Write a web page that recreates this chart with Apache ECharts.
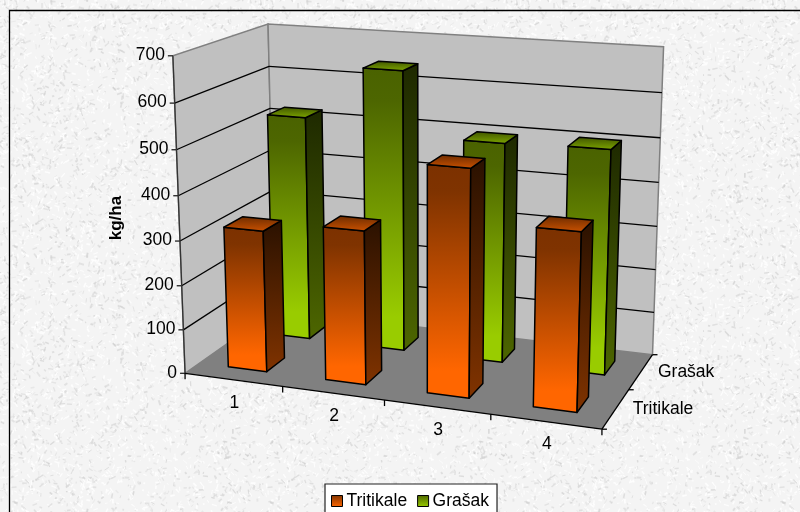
<!DOCTYPE html>
<html>
<head>
<meta charset="utf-8">
<style>html,body{margin:0;padding:0;background:#f0f0f0}#chart{width:800px;height:512px}</style>
<script src="https://cdn.jsdelivr.net/npm/echarts@6/dist/echarts.min.js"></script>
</head>
<body>
<div id="chart"></div>
<script>
// Chart values
const categories = ['1', '2', '3', '4'];
const depthLabels = ['Tritikale', 'Grašak'];
const tritikale = [319, 342, 496, 385];
const grasak = [521, 642, 498, 503];
const valueTicks = [0, 100, 200, 300, 400, 500, 600, 700];
const axisName = 'kg/ha';

const FONT = '"Liberation Sans", Arial, sans-serif';
const VALUE_MAX = 700;
const SLOTS = categories.length;

// Points on the plot box: [x, y, z] in unit space, then on-screen position.
const boxAnchors = [
  [0, 0, 0, 185.7, 373.3], [0, 1 / 7, 0, 183, 329.3], [0, 2 / 7, 0, 181, 285.7],
  [0, 3 / 7, 0, 180, 241.7], [0, 5 / 7, 0, 177, 150], [0, 6 / 7, 0, 175, 103.3],
  [0, 1, 0, 172.7, 55],
  [0, 1, 1, 268.5, 24], [0, 6 / 7, 1, 269, 66], [0, 5 / 7, 1, 269.5, 109],
  [1, 0, 1, 653, 354], [1, 1 / 7, 1, 653.7, 312.7], [1, 4 / 7, 1, 659, 183],
  [1, 5 / 7, 1, 660.5, 137.5], [1, 6 / 7, 1, 661.7, 92], [1, 1, 1, 663.3, 47],
  [1, 0, 0, 601.7, 429.5]
];

// Least-squares 3x4 camera matrix (last element fixed at 1).
function fitCamera(pts) {
  const n = 11, A = Array.from({length: n}, () => new Array(n + 1).fill(0));
  const add = (row, b) => {
    for (let i = 0; i < n; i++) {
      for (let j = 0; j < n; j++) A[i][j] += row[i] * row[j];
      A[i][n] += row[i] * b;
    }
  };
  pts.forEach(([x, y, z, u, v]) => {
    add([x, y, z, 1, 0, 0, 0, 0, -u * x, -u * y, -u * z], u);
    add([0, 0, 0, 0, x, y, z, 1, -v * x, -v * y, -v * z], v);
  });
  for (let c = 0; c < n; c++) {
    let p = c;
    for (let r = c + 1; r < n; r++) if (Math.abs(A[r][c]) > Math.abs(A[p][c])) p = r;
    [A[c], A[p]] = [A[p], A[c]];
    for (let r = 0; r < n; r++) {
      if (r === c) continue;
      const f = A[r][c] / A[c][c];
      for (let k = c; k <= n; k++) A[r][k] -= f * A[c][k];
    }
  }
  return A.map((r, i) => r[n] / r[i]);
}
const cam = fitCamera(boxAnchors);
function project(x, y, z) {
  const w = cam[8] * x + cam[9] * y + cam[10] * z + 1;
  return [(cam[0] * x + cam[1] * y + cam[2] * z + cam[3]) / w,
          (cam[4] * x + cam[5] * y + cam[6] * z + cam[7]) / w];
}

// Reads a point off the hidden cartesian scales and places it in the box.
function placer(params, api) {
  const sys = params.coordSys;
  return (slot, value, z) => {
    const c = api.coord([slot, value]);
    return project((c[0] - sys.x) / sys.width, (sys.y + sys.height - c[1]) / sys.height, z);
  };
}

const vGrad = (stops) => new echarts.graphic.LinearGradient(0, 0, 0, 1,
  stops.map(([offset, color]) => ({offset, color})));

const palette = {
  orange: {
    front: [[0, '#7c3100'], [0.12, '#7f3300'], [0.88, '#ff6600'], [1, '#ff6600']],
    side: [[0, '#2a1100'], [1, '#803300']],
    top: [[0, '#6b2b00'], [1, '#cc5200']],
    legend: [[0, '#803300'], [1, '#ff6600']]
  },
  green: {
    front: [[0, '#4a6200'], [0.12, '#4d6600'], [0.88, '#99cc00'], [1, '#99cc00']],
    side: [[0, '#1e2900'], [1, '#4d6600']],
    top: [[0, '#3e5200'], [1, '#7fa800']],
    legend: [[0, '#4d6600'], [1, '#99cc00']]
  }
};

const BAR_A = 0.3, BAR_B = 0.7;   // bar extent inside its category slot
const DEPTH_SLOT = 1 / depthLabels.length;

function barRenderer(depthIndex, colors) {
  const z0 = (depthIndex + 0.3) * DEPTH_SLOT, z1 = (depthIndex + 0.7) * DEPTH_SLOT;
  return (params, api) => {
    const at = placer(params, api);
    const i = api.value(0), v = api.value(1);
    const x0 = i + BAR_A, x1 = i + BAR_B;
    const face = (pts, fill) => ({
      type: 'polygon', shape: {points: pts}, silent: true,
      style: {fill, stroke: '#000', lineWidth: 1.5, lineJoin: 'round'}
    });
    return {type: 'group', children: [
      face([at(x0, v, z0), at(x1, v, z0), at(x1, 0, z0), at(x0, 0, z0)], vGrad(colors.front)),
      face([at(x1, v, z0), at(x1, v, z1), at(x1, 0, z1), at(x1, 0, z0)], vGrad(colors.side)),
      face([at(x0, v, z1), at(x1, v, z1), at(x1, v, z0), at(x0, v, z0)], vGrad(colors.top))
    ]};
  };
}

function label(text, x, y, extra) {
  return {type: 'text', x, y, silent: true, style: Object.assign({
    text, fill: '#000', font: '17.5px ' + FONT, align: 'left', verticalAlign: 'middle'
  }, extra || {})};
}
function seg(a, b, stroke, lineWidth) {
  return {type: 'line', silent: true,
    shape: {x1: a[0], y1: a[1], x2: b[0], y2: b[1]},
    style: {stroke, lineWidth}};
}

function frameRenderer(params, api) {
  const at = placer(params, api);
  const wall = (pts, fill) => ({type: 'polygon', silent: true, shape: {points: pts},
    style: {fill, stroke: '#808080', lineWidth: 1.5}});
  const kids = [
    wall([at(0, 0, 0), at(0, VALUE_MAX, 0), at(0, VALUE_MAX, 1), at(0, 0, 1)], '#c0c0c0'),
    wall([at(0, 0, 1), at(0, VALUE_MAX, 1), at(SLOTS, VALUE_MAX, 1), at(SLOTS, 0, 1)], '#c0c0c0'),
    {type: 'polygon', silent: true, shape: {points: [at(0, 0, 0), at(0, 0, 1), at(SLOTS, 0, 1), at(SLOTS, 0, 0)]},
      style: {fill: '#808080'}}
  ];
  valueTicks.forEach((t) => {
    const a = at(0, t, 0), b = at(0, t, 1), c = at(SLOTS, t, 1);
    if (t > 0 && t < VALUE_MAX) kids.push(seg(a, b, '#000', 1.3), seg(b, c, '#000', 1.3));
    kids.push(seg([a[0] - 5, a[1]], a, '#222', 1.3));
    kids.push(label(String(t), a[0] - 8, a[1] - 0.5, {align: 'right'}));
  });
  kids.push(seg(at(0, 0, 0), at(0, VALUE_MAX, 0), '#333', 1.3));
  kids.push(seg(at(0, 0, 0), at(SLOTS, 0, 0), '#000', 1.3));
  kids.push(seg(at(SLOTS, 0, 0), at(SLOTS, 0, 1), '#000', 1.3));
  for (let i = 0; i <= SLOTS; i++) {
    const p = at(i, 0, 0);
    kids.push(seg(p, [p[0], p[1] + 6], '#000', 1.3));
  }
  categories.forEach((c, i) => {
    const p = at(i + 0.5, 0, 0);
    kids.push(label(c, p[0] + 1, p[1] + 23, {align: 'center'}));
  });
  for (let d = 0; d <= depthLabels.length; d++) {
    const p = at(SLOTS, 0, d * DEPTH_SLOT);
    kids.push(seg(p, [p[0] + 5, p[1]], '#000', 1.3));
  }
  depthLabels.forEach((name, d) => {
    const p = at(SLOTS, 0, (d + 0.5) * DEPTH_SLOT);
    kids.push(label(name, p[0] + 17, p[1] + 0.5));
  });
  const ref = at(0, 300, 0);
  const nameLabel = label(axisName, ref[0] - 64, ref[1] - 23, {
    font: 'bold 17px ' + FONT, align: 'center'
  });
  nameLabel.rotation = Math.PI / 2;
  kids.push(nameLabel);
  return {type: 'group', children: kids};
}

// Mottled paper tile used behind the whole chart.
function paperTile() {
  const size = 256, cv = document.createElement('canvas');
  cv.width = cv.height = size;
  const ctx = cv.getContext('2d');
  ctx.fillStyle = '#f4f4f4';
  ctx.fillRect(0, 0, size, size);
  ctx.filter = 'blur(0.7px)';
  let s = 12345;
  const next = () => (s = (s * 1664525 + 1013904223) >>> 0) / 4294967296;
  for (let k = 0; k < 3000; k++) {
    const x = next() * size, y = next() * size, a = next() * Math.PI, l = 1.5 + next() * 4;
    const dark = next() < 0.5;
    const g = dark ? 200 + next() * 30 : 254;
    ctx.strokeStyle = `rgba(${g},${g},${g},${dark ? 0.6 : 0.85})`;
    ctx.lineWidth = 0.8 + next() * 1.1;
    for (const ox of [-size, 0, size]) for (const oy of [-size, 0, size]) {
      if (x + ox < -10 || x + ox > size + 10 || y + oy < -10 || y + oy > size + 10) continue;
      ctx.beginPath();
      ctx.moveTo(x + ox, y + oy);
      ctx.lineTo(x + ox + Math.cos(a) * l, y + oy + Math.sin(a) * l);
      ctx.stroke();
    }
  }
  return cv;
}

const chart = echarts.init(document.getElementById('chart'), null, {renderer: 'canvas'});
chart.setOption({
  animation: false,
  backgroundColor: {image: paperTile(), repeat: 'repeat'},
  grid: {left: 100, top: 100, width: 400, height: 300},
  xAxis: {type: 'value', min: 0, max: SLOTS, show: false},
  yAxis: {type: 'value', min: 0, max: VALUE_MAX, show: false},
  legend: {
    left: 325, top: 484, padding: [8, 8, 30, 6], itemGap: 10, itemWidth: 11, itemHeight: 11,
    backgroundColor: '#fff', borderColor: '#222', borderWidth: 1.2,
    textStyle: {fontFamily: FONT, fontSize: 17.5, color: '#000', padding: [0, 0, 0, -1]},
    selectedMode: false,
    data: [
      {name: depthLabels[0], icon: 'rect', itemStyle: {color: vGrad(palette.orange.legend), borderColor: '#000', borderWidth: 1}},
      {name: depthLabels[1], icon: 'rect', itemStyle: {color: vGrad(palette.green.legend), borderColor: '#000', borderWidth: 1}}
    ]
  },
  graphic: [{
    type: 'rect', silent: true, z: 0,
    shape: {x: 9.5, y: 10.5, width: 900, height: 700},
    style: {fill: 'none', stroke: '#000', lineWidth: 1.3}
  }],
  series: [
    {type: 'custom', name: 'frame', z: 1, clip: false, silent: true, renderItem: frameRenderer, data: [[0]]},
    {type: 'custom', name: depthLabels[1], z: 2, clip: false, silent: true,
      renderItem: barRenderer(1, palette.green),
      data: grasak.map((v, i) => [i, v])},
    {type: 'custom', name: depthLabels[0], z: 3, clip: false, silent: true,
      renderItem: barRenderer(0, palette.orange),
      data: tritikale.map((v, i) => [i, v])}
  ]
});
</script>
</body>
</html>
